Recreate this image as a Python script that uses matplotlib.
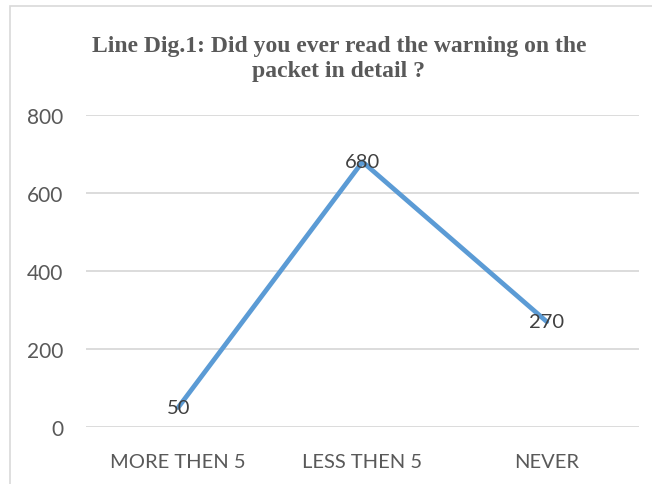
import matplotlib.pyplot as plt
from matplotlib.patches import Rectangle

categories = ["MORE THEN 5", "LESS THEN 5", "NEVER"]
values = [50, 680, 270]
y_ticks = [0, 200, 400, 600, 800]

grey_text = "#595959"

fig = plt.figure(figsize=(6.52, 4.85), dpi=100)
fig.patch.set_facecolor("white")

# chart frame (light grey border, only left/top visible in the crop)
fig.add_artist(Rectangle((10 / 652, -0.05), 1.1, 1 - 7 / 485 + 0.05,
                         transform=fig.transFigure, fill=False,
                         edgecolor="#D9D9D9", linewidth=1.2))

ax = fig.add_axes([86 / 652, 57 / 485, 553 / 652, 312 / 485])
x = list(range(len(categories)))
ax.plot(x, values, color="#5B9BD5", linewidth=3.4, solid_capstyle="round", zorder=3)

for xi, v in zip(x, values):
    ax.text(xi, v, str(v), ha="center", va="center", fontsize=14.5,
            family="Lato", color="#404040", zorder=4)

ax.set_xlim(-0.5, len(categories) - 0.5)
ax.set_ylim(0, 800)
ax.set_yticks(y_ticks)
ax.set_xticks(x)
ax.set_xticklabels(categories)
ax.grid(axis="y", color="#D9D9D9", linewidth=1.3)
ax.set_axisbelow(True)
for s in ax.spines.values():
    s.set_visible(False)
ax.tick_params(axis="y", length=0, pad=16.5, labelsize=15, labelcolor=grey_text)
ax.tick_params(axis="x", length=0, pad=18.5, labelsize=14.5, labelcolor=grey_text)
for lab in ax.get_xticklabels() + ax.get_yticklabels():
    lab.set_family("Lato")

fig.text(339 / 652, 1 - 59 / 485,
         "Line Dig.1: Did you ever read the warning on the\npacket in detail ?",
         ha="center", va="center", fontsize=17, fontweight="bold",
         family="Liberation Serif", color=grey_text, linespacing=1.28)

fig.savefig("out.png", dpi=100)
